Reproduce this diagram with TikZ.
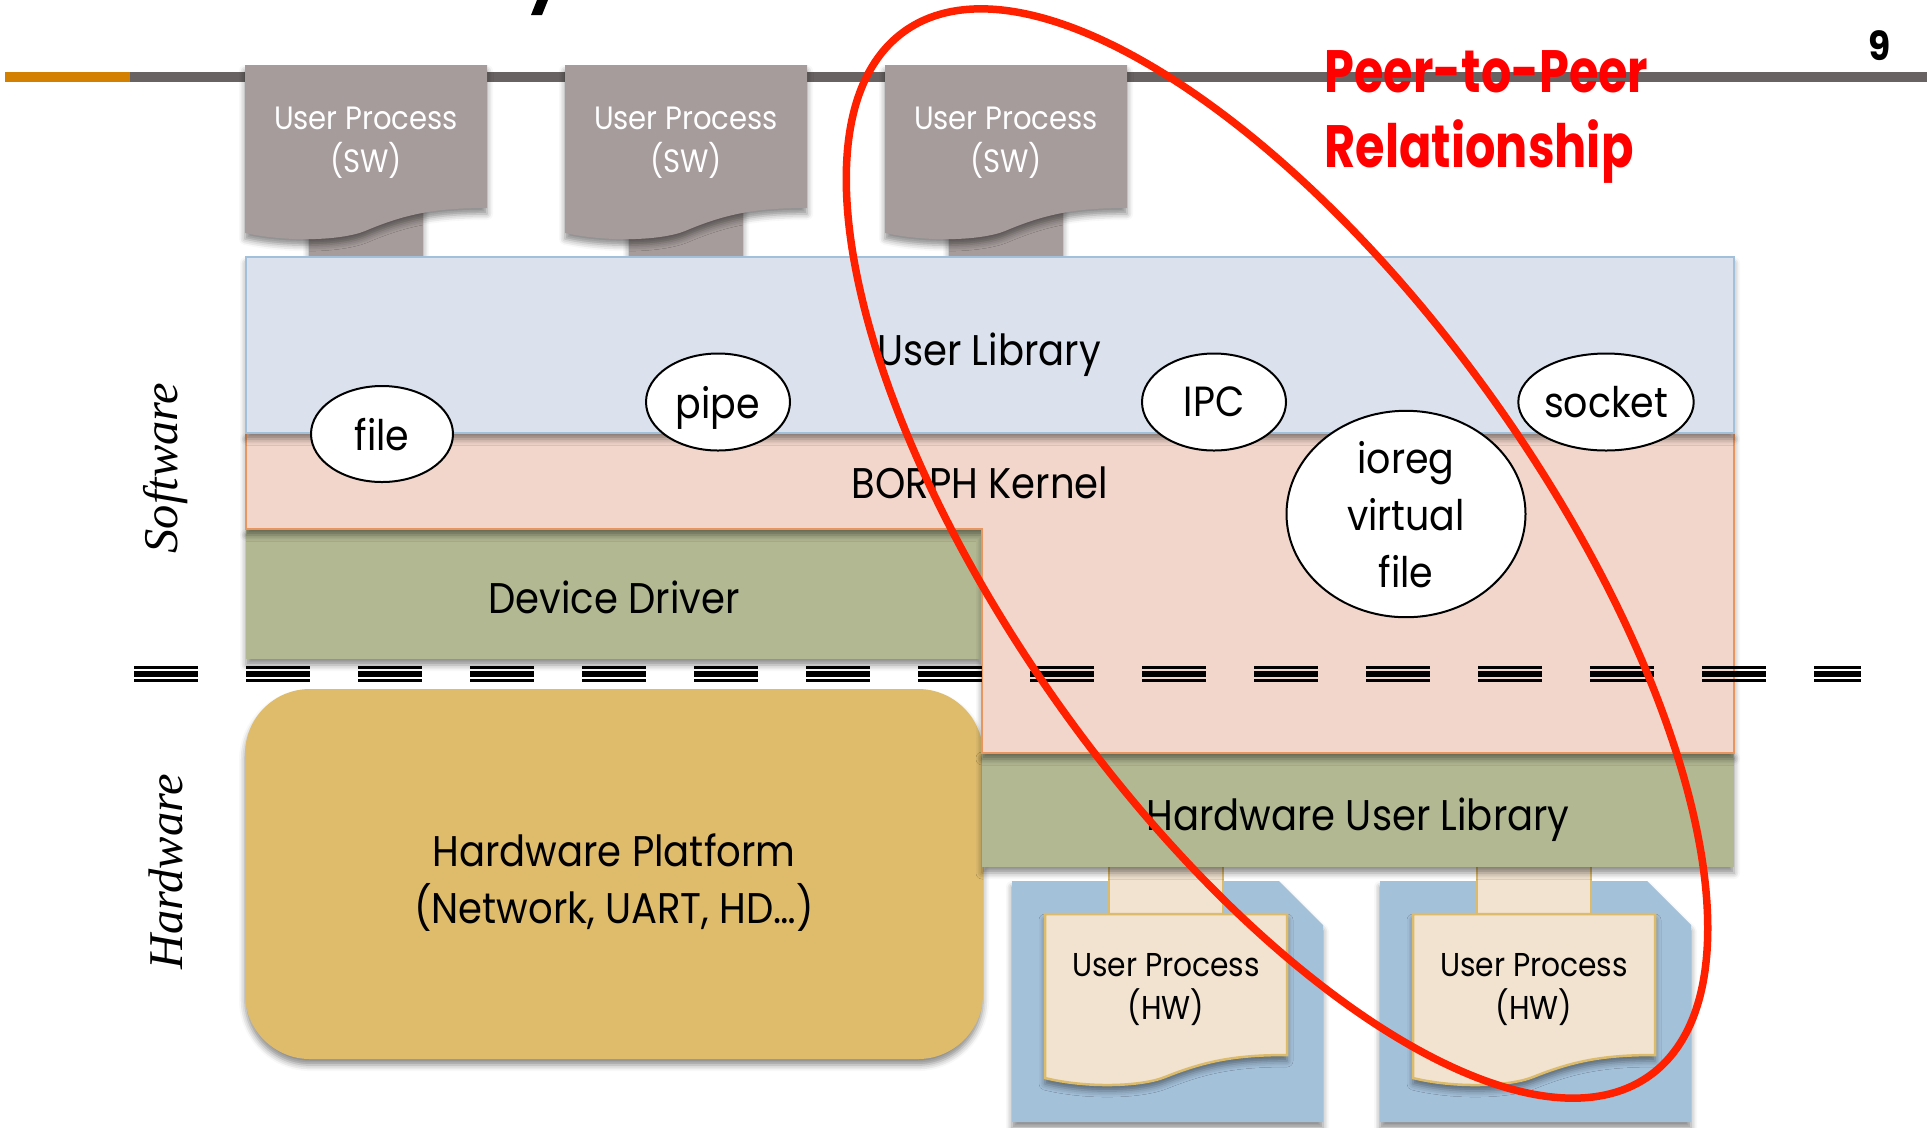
\documentclass[tikz,border=0pt]{standalone}
\usepackage{fontspec}
\setmainfont{Poppins}[FakeStretch=0.9]
\newfontfamily\titlefont{Poppins}[FakeStretch=0.8]
\newfontfamily\sideserif{Liberation Serif}
\usetikzlibrary{shapes.geometric,shadows.blur}

\definecolor{barorange}{HTML}{D37F00}
\definecolor{bargrey}{HTML}{686262}
\definecolor{procgrey}{HTML}{A59C9B}
\definecolor{ulfill}{HTML}{DBE2EE}
\definecolor{ulline}{HTML}{A3C0DA}
\definecolor{kfill}{HTML}{F2D6CB}
\definecolor{kline}{HTML}{E8955F}
\definecolor{drvgreen}{HTML}{B2B892}
\definecolor{platgold}{HTML}{DEBC6C}
\definecolor{hwblue}{HTML}{A4C1DA}
\definecolor{hwbeige}{HTML}{F2E3D0}
\definecolor{hwline}{HTML}{DCBB6A}
\definecolor{peerred}{HTML}{FF2000}

\tikzset{
  softshadow/.style={blur shadow={shadow xshift=0pt, shadow yshift=-0.6mm,
      shadow blur radius=0.6mm, shadow opacity=45}},
  layertext/.style={inner sep=0pt, font=\fontsize{12.2}{15}\selectfont},
  swtext/.style={inner sep=0pt, align=center, text=white,
      font=\fontsize{9.2}{12.2}\selectfont},
  hwtext/.style={inner sep=0pt, align=center,
      font=\fontsize{9.4}{12.2}\selectfont},
  bubble/.style={ellipse, draw=black, fill=white, line width=0.2mm,
      inner sep=0pt, text depth=0pt, align=center,
      font=\fontsize{12}{16.2}\selectfont},
  sidelabel/.style={rotate=90, inner sep=0pt,
      font=\sideserif\itshape\fontsize{13.8}{16}\selectfont},
}

\begin{document}
\begin{tikzpicture}[x=0.1mm, y=-0.1mm]
\useasboundingbox (0,0) rectangle (1927,1127);

% title rule
\fill[barorange] (5,72) rectangle (130,82);
\fill[bargrey] (130,72) rectangle (1927,82);
% descender of the heading above
\fill (537,0) -- (548,0) -- (542,15) -- (531,15) -- cycle;

% software user processes
\foreach \i/\x in {1/245, 2/565, 3/885} {
  \begin{scope}[shift={(\x,0)}]
    \fill[procgrey, softshadow] (64,200) rectangle (178,258);
    \fill[procgrey, softshadow] (0,65) -- (242,65) -- (242,208)
      .. controls (190,208) and (160,214) .. (120,231)
      .. controls (95,241) and (40,242) .. (0,233) -- cycle;
    \node[swtext, anchor=north] (sw\i) at (121,106) {User Process\\(SW)};
  \end{scope}
}

% hardware platform
\fill[platgold, softshadow, rounded corners=6.5mm] (245,689) rectangle (983,1059);
\node[layertext, align=center, anchor=north] (platform) at (614,833)
  {Hardware Platform\\[1.2pt](Network, UART, HD\ldots)};

% device driver
\fill[drvgreen, softshadow] (246,529) rectangle (982,659);

% hardware user processes
\foreach \i/\x in {1/1012, 2/1380} {
  \begin{scope}[shift={(\x,0)}]
    \fill[hwblue, softshadow] (0,881) -- (267,881) -- (311,925) -- (311,1122)
      -- (0,1122) -- cycle;
    \filldraw[fill=hwbeige, draw=hwline, line width=0.2mm] (97,866) rectangle (211,916);
    \filldraw[fill=hwbeige, draw=hwline, line width=0.25mm, softshadow]
      (33,914) -- (275,914) -- (275,1055)
      .. controls (223,1055) and (193,1061) .. (153,1077)
      .. controls (128,1087) and (73,1088) .. (33,1078) -- cycle;
    \node[hwtext, anchor=north] (hw\i) at (154,953) {User Process\\(HW)};
  \end{scope}
}

% hardware user library
\fill[drvgreen, softshadow] (982,752) rectangle (1734,867);

% BORPH kernel
\filldraw[fill=kfill, draw=kline, line width=0.25mm, softshadow]
  (246,433) -- (1734,433) -- (1734,753) -- (982,753) -- (982,529) -- (246,529) -- cycle;

% user library
\filldraw[fill=ulfill, draw=ulline, line width=0.25mm, softshadow]
  (246,257) rectangle (1734,433);

% software / hardware boundary
\foreach \yy/\w in {667.3/0.25mm, 673.8/0.56mm, 680.5/0.25mm}
  \draw[line width=\w, dash pattern=on 6.4mm off 4.8mm] (134,\yy) -- (1861,\yy);

% layer labels
\node[layertext, anchor=base] (ulib) at (989,365) {User Library};
\node[layertext, anchor=base] (kernel) at (980,498) {BORPH Kernel};
\node[layertext, anchor=base] (driver) at (614,613) {Device Driver};
\node[layertext, anchor=base] (hwlib) at (1358,830) {Hardware User Library};

% communication endpoints
\node[bubble, minimum width=14.2mm, minimum height=9.6mm] (file) at (382,434) {file};
\node[bubble, minimum width=14.4mm, minimum height=9.7mm] (pipe) at (718,402) {pipe};
\node[bubble, minimum width=14.4mm, minimum height=9.7mm] (ipc) at (1214,402) {IPC};
\node[bubble, minimum width=15.9mm, minimum height=9.7mm] (socket) at (1606,402) {socket};
\node[bubble, minimum width=23.9mm, minimum height=19.1mm] (ioreg) at (1406,514)
  {ioreg\\virtual\\file};

% side labels
\node[sidelabel] (swlabel) at (166,468) {Software};
\node[sidelabel] (hwlabel) at (166,872) {Hardware};

% peer-to-peer loop
\node[ellipse, draw=peerred, line width=0.75mm, inner sep=0pt,
  minimum width=128.3mm, minimum height=53.1mm, rotate=-54.5]
  (loop) at (1277,553.5) {};

\node[anchor=north west, inner sep=0pt, align=left, text=red,
  font=\titlefont\bfseries\fontsize{17}{21.3}\selectfont] (peer) at (1324,50)
  {Peer-to-Peer\\Relationship};

\node[anchor=base, inner sep=0pt, font=\bfseries\fontsize{11.4}{13}\selectfont]
  (page) at (1880,60) {9};
\end{tikzpicture}
\end{document}
